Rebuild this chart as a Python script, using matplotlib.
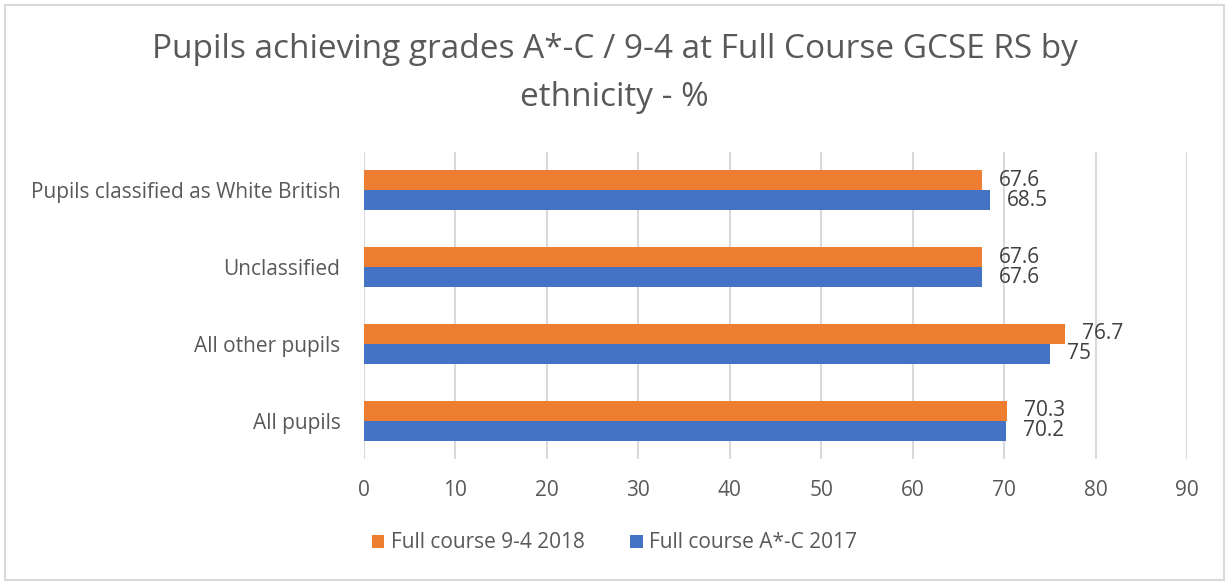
import matplotlib.pyplot as plt
import numpy as np
from matplotlib.patches import Rectangle

categories = ["All pupils", "All other pupils", "Unclassified", "Pupils classified as White British"]
full_2018 = [70.3, 76.7, 67.6, 67.6]
full_2017 = [70.2, 75, 67.6, 68.5]
labels_2018 = ["70.3", "76.7", "67.6", "67.6"]
labels_2017 = ["70.2", "75", "67.6", "68.5"]
series_names = ["Full course 9-4 2018", "Full course A*-C 2017"]

orange = "#ED7D31"
blue = "#4472C4"
grey = "#595959"

plt.rcParams['font.family'] = ['Open Sans', 'DejaVu Sans']

fig = plt.figure(figsize=(12.29, 5.83), dpi=100)
ax = fig.add_axes([364/1229, 1-459/583, (1187-364)/1229, (459-152)/583])

y = np.arange(len(categories))
h = 0.26
b1 = ax.barh(y + h/2, full_2018, height=h, color=orange, label=series_names[0])
b2 = ax.barh(y - h/2, full_2017, height=h, color=blue, label=series_names[1])

for bars, labs in ((b1, labels_2018), (b2, labels_2017)):
    for r, t in zip(bars, labs):
        ax.annotate(t, (r.get_width(), r.get_y() + r.get_height()/2),
                    xytext=(12, 0), textcoords="offset points",
                    va="center", ha="left", fontsize=15, color="#404040")

ax.set_xlim(0, 90)
ax.set_ylim(-0.5, 3.5)
ax.set_xticks(range(0, 91, 10))
ax.set_yticks(y)
ax.set_yticklabels(categories)
ax.tick_params(axis="both", length=0, labelsize=15, labelcolor=grey)
ax.tick_params(axis="x", pad=15)
ax.tick_params(axis="y", pad=17)
ax.grid(axis="x", color="#d9d9d9", linewidth=1.5)
ax.set_axisbelow(True)
for s in ax.spines.values():
    s.set_visible(False)

fig.text(0.5, 1-50/583, "Pupils achieving grades A*-C / 9-4 at Full Course GCSE RS by",
         ha="center", va="center", fontsize=24, color=grey)
fig.text(0.5, 1-98/583, "ethnicity - %", ha="center", va="center", fontsize=24, color=grey)

fig.legend(loc="center", bbox_to_anchor=(0.5, 1-543/583), ncol=2, frameon=False,
           fontsize=15, labelcolor=grey, handlelength=0.6, handleheight=0.6,
           columnspacing=2.2, handletextpad=0.3)

fig.patches.append(Rectangle((5/1229, 3/583), 1219/1229, 575/583, transform=fig.transFigure,
                             fill=False, edgecolor="#d9d9d9", linewidth=1.5))

fig.savefig("out.png", dpi=100)
